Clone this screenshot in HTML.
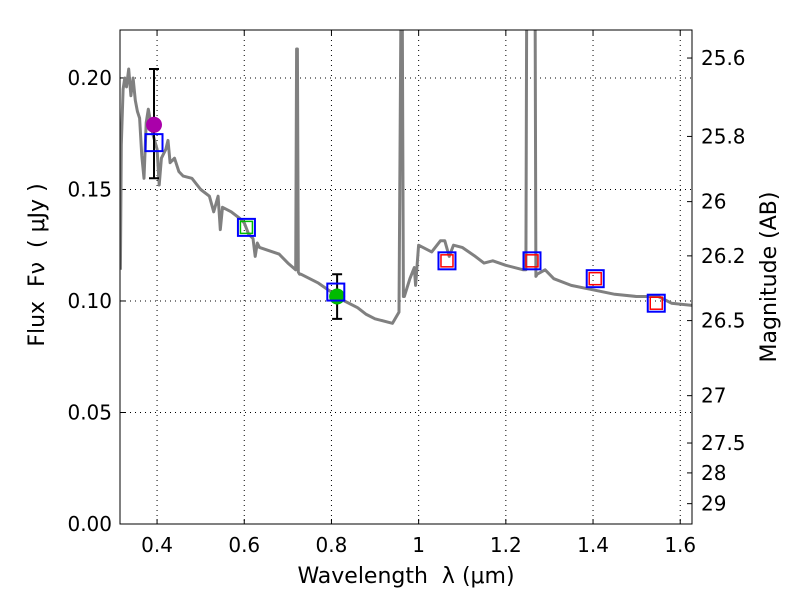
<!DOCTYPE html>
<html><head><meta charset="utf-8"><style>
body{margin:0;background:#fff;}
svg text{font-family:"DejaVu Sans","Liberation Sans",sans-serif;font-size:20px;fill:#000;}
svg text.title{font-size:22px;white-space:pre;}
</style></head><body>
<svg id="chart" width="800" height="600" xmlns="http://www.w3.org/2000/svg"></svg>
<script>
const specLam=[0.316,0.318,0.322,0.326,0.33,0.335,0.34,0.345,0.35,0.355,0.36,0.365,0.37,0.375,0.38,0.39,0.4,0.405,0.41,0.42,0.425,0.43,0.44,0.45,0.46,0.48,0.5,0.52,0.53,0.54,0.545,0.55,0.57,0.59,0.6,0.61,0.62,0.625,0.63,0.635,0.65,0.68,0.7,0.718,0.72,0.722,0.724,0.727,0.73,0.77,0.8,0.83,0.86,0.88,0.9,0.93,0.94,0.955,0.96,0.962,0.965,0.967,0.98,0.99,0.993,1.0,1.03,1.05,1.06,1.07,1.08,1.1,1.13,1.15,1.17,1.2,1.24,1.246,1.248,1.267,1.269,1.272,1.29,1.31,1.35,1.4,1.45,1.5,1.55,1.58,1.627];
const specFlux=[0.114,0.17,0.195,0.2,0.196,0.204,0.192,0.2,0.19,0.185,0.182,0.165,0.155,0.18,0.186,0.175,0.168,0.152,0.164,0.168,0.172,0.162,0.164,0.158,0.156,0.155,0.15,0.147,0.14,0.147,0.132,0.142,0.14,0.137,0.135,0.13,0.128,0.12,0.126,0.124,0.123,0.121,0.117,0.114,0.213,0.213,0.113,0.112,0.112,0.108,0.104,0.1,0.097,0.094,0.092,0.0905,0.09,0.095,0.25,0.25,0.102,0.102,0.11,0.115,0.107,0.125,0.122,0.127,0.127,0.12,0.125,0.124,0.12,0.117,0.118,0.116,0.114,0.114,0.25,0.25,0.111,0.112,0.114,0.11,0.107,0.105,0.103,0.102,0.102,0.099,0.098];
const magLam=[0.393,0.605,0.81,1.065,1.26,1.405,1.545];
const magFlux=[0.171,0.133,0.104,0.118,0.118,0.110,0.099];
const innerColors=["none","#00bb00","none","red","red","red","red"];
const obsLam=[0.393,0.813];
const obsFlux=[0.179,0.102];
const obsErrLo=[0.155,0.092];
const obsErrHi=[0.204,0.112];
const obsColors=["#aa00aa","#00bb00"];
const xTicks=[0.4,0.6,0.8,1.0,1.2,1.4,1.6];
const xTickLabels=["0.4","0.6","0.8","1","1.2","1.4","1.6"];
const yTicks=[0,0.05,0.1,0.15,0.2];
const yTickLabels=["0.00","0.05","0.10","0.15","0.20"];
const magTicks=[25.6,25.8,26,26.2,26.5,27,27.5,28,29];
const magTickLabels=["25.6","25.8","26","26.2","26.5","27","27.5","28","29"];

const L=120,R=692,T=30,B=524;
const xMin=0.315,xMax=1.627,yMin=0,yMax=0.2215;
const sx=v=>L+(v-xMin)/(xMax-xMin)*(R-L);
const sy=v=>B-(v-yMin)/(yMax-yMin)*(B-T);
const magToFlux=m=>Math.pow(10,(23.9-m)/2.5);
const svg=document.getElementById('chart');
const NS='http://www.w3.org/2000/svg';
function mk(tag,attrs,parent){const e=document.createElementNS(NS,tag);for(const k in attrs)e.setAttribute(k,attrs[k]);(parent||svg).appendChild(e);return e;}

const clip=mk('clipPath',{id:'pc'});mk('rect',{x:L,y:T,width:R-L,height:B-T},clip);

xTicks.forEach((t,i)=>{
 const g=mk('line',{x1:sx(t),x2:sx(t),y1:T,y2:B,stroke:'#000','stroke-dasharray':'1,4','stroke-width':1});
 
 const tk=mk('line',{x1:sx(t),x2:sx(t),y1:B,y2:B-5,stroke:'#000'});
 
 const tk2=mk('line',{x1:sx(t),x2:sx(t),y1:T,y2:T+5,stroke:'#000'});
 
 const tx=mk('text',{x:sx(t),y:B+28,'text-anchor':'middle'});tx.textContent=xTickLabels[i];
 
});
yTicks.forEach((t,i)=>{
 const g=mk('line',{x1:L,x2:R,y1:sy(t),y2:sy(t),stroke:'#000','stroke-dasharray':'1,4','stroke-width':1});
 
 const tk=mk('line',{x1:L,x2:L+5,y1:sy(t),y2:sy(t),stroke:'#000'});
 
 const tx=mk('text',{x:L-8,y:sy(t)+7,'text-anchor':'end'});tx.textContent=yTickLabels[i];
 
});
magTicks.forEach((m,i)=>{
 const y=sy(magToFlux(m));
 const tk=mk('line',{x1:R,x2:R-5,y1:y,y2:y,stroke:'#000'});
 
 const tx=mk('text',{x:R+9,y:y+7});tx.textContent=magTickLabels[i];
 
});

const pts=specLam.map((l,i)=>sx(l).toFixed(1)+','+sy(specFlux[i]).toFixed(1)).join(' ');
const sp=mk('polyline',{points:pts,fill:'none',stroke:'#808080','stroke-width':3,'clip-path':'url(#pc)','stroke-linejoin':'round'});


obsLam.forEach((l,i)=>{
 const x=sx(l);
 const e=mk('path',{d:`M${x},${sy(obsErrLo[i])}V${sy(obsErrHi[i])}M${x-5},${sy(obsErrLo[i])}h10M${x-5},${sy(obsErrHi[i])}h10`,stroke:'#000','stroke-width':2,fill:'none'});
 
 const c=mk('circle',{cx:x,cy:sy(obsFlux[i]),r:8,fill:obsColors[i]});
 
});
magLam.forEach((l,i)=>{
 const x=sx(l),y=sy(magFlux[i]);
 const s=mk('rect',{x:x-8.5,y:y-8.5,width:17,height:17,fill:'none',stroke:'#0000ff','stroke-width':2});
 
 if(innerColors[i]!=='none'){
  const r=mk('rect',{x:x-6,y:y-6,width:12,height:12,fill:'none',stroke:innerColors[i],'stroke-width':1.5});
  
 }
});

const fr=mk('rect',{x:L,y:T,width:R-L,height:B-T,fill:'none',stroke:'#000','stroke-width':1});


const xl=mk('text',{x:406,y:583,'text-anchor':'middle','class':'title'});xl.textContent='Wavelength  λ (μm)';

const yl=mk('text',{x:44,y:265,'text-anchor':'middle','class':'title',transform:'rotate(-90 44 265)'});yl.textContent='Flux  Fν  ( μJy )';

const ml=mk('text',{x:776,y:277,'text-anchor':'middle','class':'title',transform:'rotate(-90 776 277)'});ml.textContent='Magnitude (AB)';

</script>
</body></html>
